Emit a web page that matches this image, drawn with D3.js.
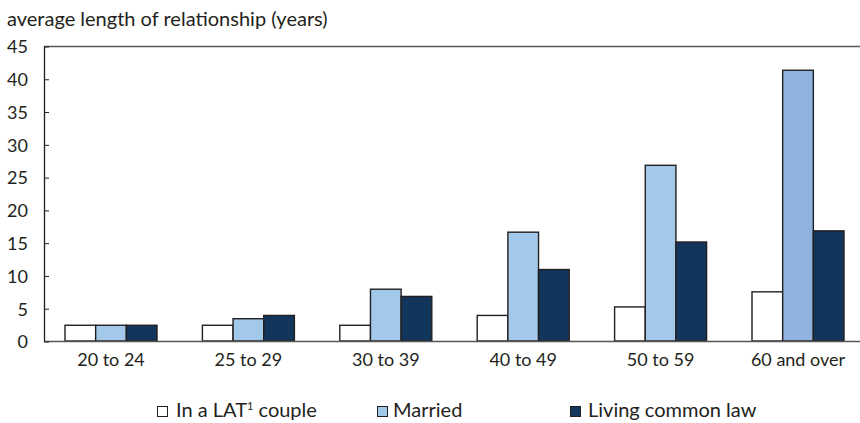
<!DOCTYPE html>
<html>
<head>
<meta charset="utf-8">
<script src="https://cdn.jsdelivr.net/npm/d3@7"></script>
<style>
  body { margin: 0; background: #fff; }
  svg text { font-family: Lato, "Open Sans", sans-serif; fill: #231f20; }
</style>
</head>
<body>
<svg id="chart" width="860" height="423"></svg>
<script>
// chart data
const ageGroups = ["20 to 24", "25 to 29", "30 to 39", "40 to 49", "50 to 59", "60 and over"];
const seriesNames = ["lat", "married", "common"];
const latValues = [2.4, 2.4, 2.4, 3.9, 5.2, 7.5];
const marriedValues = [2.4, 3.4, 7.9, 16.6, 26.8, 41.3];
const commonLawValues = [2.4, 3.9, 6.8, 10.9, 15.1, 16.8];
const yTicks = [0, 5, 10, 15, 20, 25, 30, 35, 40, 45];

const svg = d3.select("#chart");

const plotLeft = 44, plotRight = 860, plotTop = 46, plotBottom = 341;

const y = d3.scaleLinear().domain([0, 45]).range([plotBottom, plotTop]);

// groups are 137.4 px apart, bars sit at the left part of each band
const x0 = d3.scaleBand().domain(ageGroups).range([44.5, 44.5 + 137.4 * 6]).padding(0);
const x1 = d3.scaleBand().domain(seriesNames).range([20.5, 112.5]).padding(0);

const fills = { lat: "#ffffff", married: "#a3c9ea", common: "#12355b" };

const rows = ageGroups.map((g, i) => ({
  group: g,
  values: [
    { key: "lat", value: latValues[i] },
    { key: "married", value: marriedValues[i] },
    { key: "common", value: commonLawValues[i] }
  ]
}));

// top frame line
svg.append("line")
  .attr("x1", plotLeft).attr("x2", plotRight)
  .attr("y1", plotTop + 0.5).attr("y2", plotTop + 0.5)
  .attr("stroke", "#555").attr("stroke-width", 1.3);

// bars
const groups = svg.selectAll("g.group")
  .data(rows)
  .enter()
  .append("g")
  .attr("class", "group")
  .attr("transform", d => `translate(${x0(d.group)},0)`);

groups.selectAll("rect")
  .data(d => d.values.map(v => ({ ...v, group: d.group })))
  .enter()
  .append("rect")
  .attr("x", d => x1(d.key))
  .attr("width", x1.bandwidth())
  .attr("y", d => y(d.value))
  .attr("height", d => y(0) - y(d.value))
  .attr("fill", d => (d.key === "married" && d.group === "60 and over") ? "#8fb3de" : fills[d.key])
  .attr("stroke", "#231f20")
  .attr("stroke-width", 1.4);

// baseline
svg.append("line")
  .attr("x1", plotLeft).attr("x2", plotRight)
  .attr("y1", plotBottom + 0.5).attr("y2", plotBottom + 0.5)
  .attr("stroke", "#555").attr("stroke-width", 1.3);

// y axis with ticks pointing inside
const yAxis = svg.append("g")
  .attr("transform", `translate(${plotLeft},0.5)`)
  .call(d3.axisRight(y).tickValues(yTicks).tickSize(5).tickFormat(d3.format("d")));
yAxis.select(".domain").attr("stroke", "#231f20").attr("stroke-width", 1.3).attr("d", `M0.5,${plotTop}V${plotBottom}`);
yAxis.selectAll(".tick line").attr("stroke", "#231f20");
yAxis.selectAll(".tick text")
  .attr("x", -16)
  .attr("text-anchor", "end")
  .attr("dy", "0.35em")
  .style("font-size", "18px");

// category labels
svg.selectAll("text.cat")
  .data(ageGroups)
  .enter()
  .append("text")
  .attr("class", "cat")
  .attr("x", d => x0(d) + 66.5)
  .attr("y", 366)
  .attr("text-anchor", "middle")
  .style("font-size", "18px")
  .text(d => d);

// y axis title
svg.append("text")
  .attr("x", 7)
  .attr("y", 26)
  .style("font-size", "20px")
  .text("average length of relationship (years)");

// legend
const legendItems = [
  { key: "lat", x: 157, tx: 19, label: "In a LAT", sup: "1", after: " couple" },
  { key: "married", x: 377, tx: 16, label: "Married" },
  { key: "common", x: 570, tx: 18, label: "Living common law" }
];

const legend = svg.selectAll("g.legend")
  .data(legendItems)
  .enter()
  .append("g")
  .attr("class", "legend")
  .attr("transform", d => `translate(${d.x},0)`);

legend.append("rect")
  .attr("x", 0.5).attr("y", 406.5)
  .attr("width", 10).attr("height", 10)
  .attr("fill", d => fills[d.key])
  .attr("stroke", "#231f20")
  .attr("stroke-width", 1);

const legendText = legend.append("text")
  .attr("x", d => d.tx)
  .attr("y", 417)
  .style("font-size", "20px");

legendText.append("tspan").text(d => d.label);
legendText.filter(d => d.sup).append("tspan")
  .attr("dy", -7).style("font-size", "11px").text(d => d.sup);
legendText.filter(d => d.after).append("tspan")
  .attr("dy", 7).text(d => d.after);
</script>
</body>
</html>
